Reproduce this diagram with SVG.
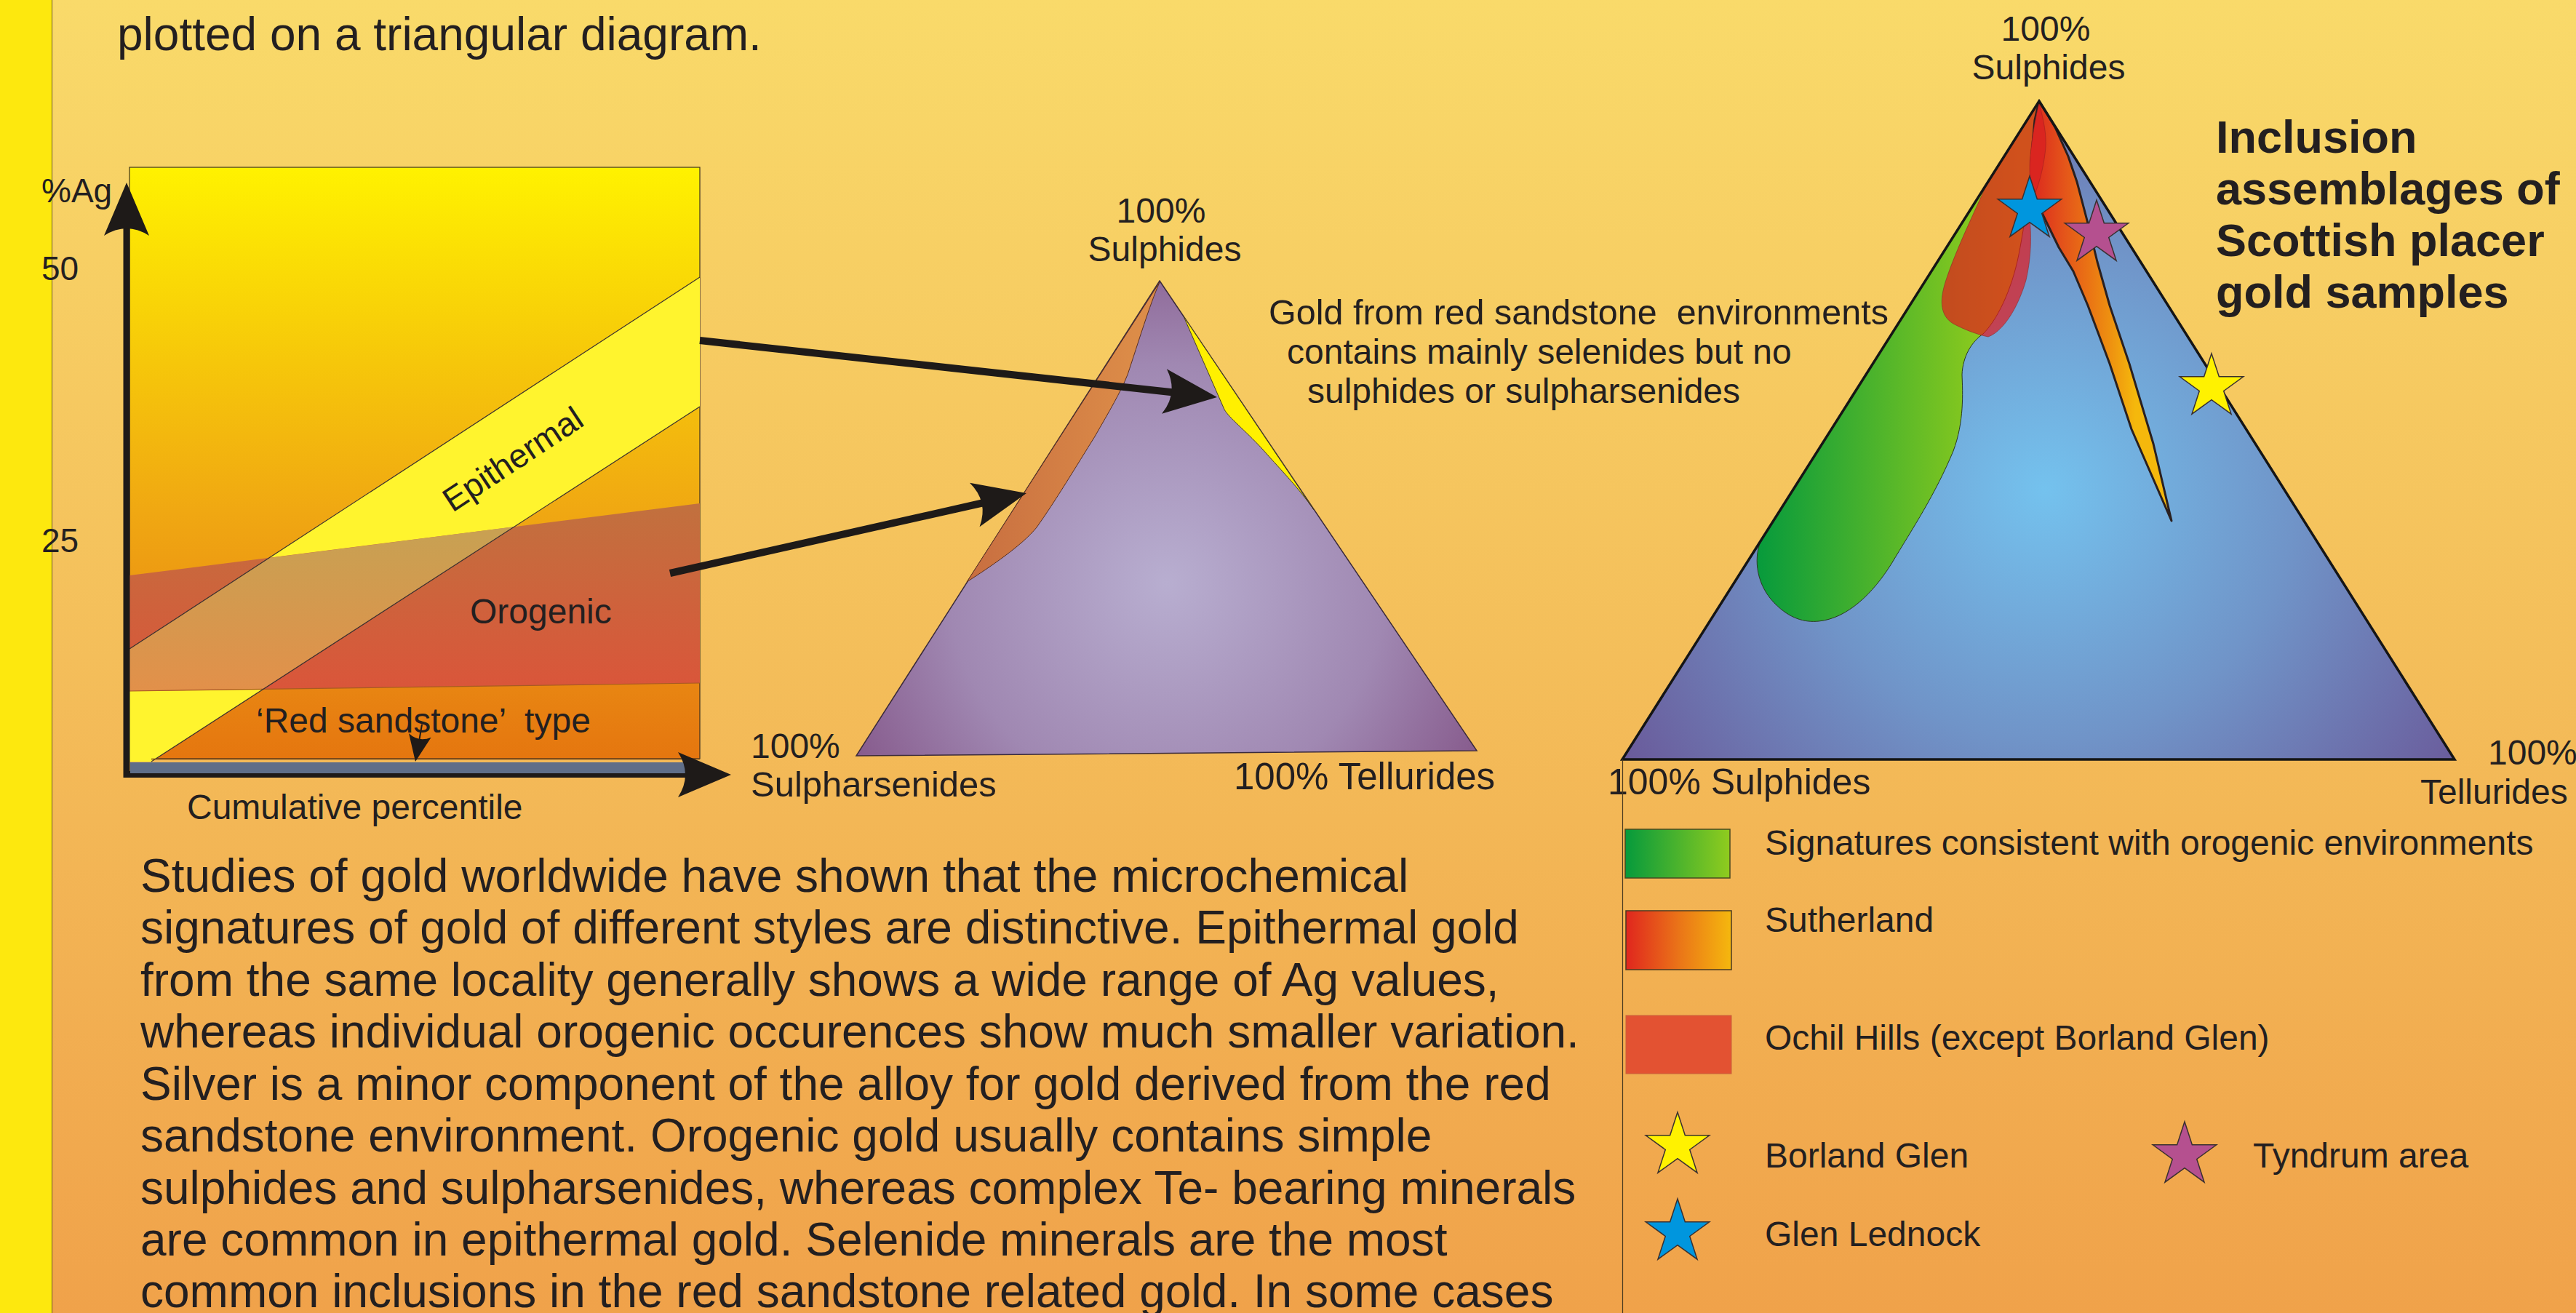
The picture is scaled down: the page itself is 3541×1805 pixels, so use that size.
<svg xmlns="http://www.w3.org/2000/svg" width="3541" height="1805" viewBox="0 0 3541 1805">
<defs>
  <linearGradient id="bg" x1="0" y1="0" x2="0" y2="1805" gradientUnits="userSpaceOnUse">
    <stop offset="0" stop-color="#F9DA6A"/>
    <stop offset="0.5" stop-color="#F4BE5A"/>
    <stop offset="1" stop-color="#F0A24A"/>
  </linearGradient>
  <linearGradient id="boxbg" x1="0" y1="230" x2="0" y2="1043" gradientUnits="userSpaceOnUse">
    <stop offset="0" stop-color="#FFF200"/>
    <stop offset="0.33" stop-color="#F6C70A"/>
    <stop offset="0.58" stop-color="#F0A812"/>
    <stop offset="0.88" stop-color="#E88512"/>
    <stop offset="1" stop-color="#E5760F"/>
  </linearGradient>
  <linearGradient id="orog" x1="0" y1="700" x2="0" y2="950" gradientUnits="userSpaceOnUse">
    <stop offset="0" stop-color="#C2703E"/>
    <stop offset="1" stop-color="#DA553A"/>
  </linearGradient>
  <linearGradient id="overlap" x1="0" y1="740" x2="0" y2="950" gradientUnits="userSpaceOnUse">
    <stop offset="0" stop-color="#C9A052"/>
    <stop offset="1" stop-color="#E2904A"/>
  </linearGradient>
  <radialGradient id="purple" cx="1604" cy="801" r="500" gradientUnits="userSpaceOnUse">
    <stop offset="0" stop-color="#B8AED0"/>
    <stop offset="0.6" stop-color="#A088B2"/>
    <stop offset="1" stop-color="#85588A"/>
  </radialGradient>
  <linearGradient id="orangeStrip" x1="1330" y1="0" x2="1560" y2="0" gradientUnits="userSpaceOnUse">
    <stop offset="0" stop-color="#C86E40"/>
    <stop offset="1" stop-color="#DC8C48"/>
  </linearGradient>
  <radialGradient id="blue" cx="2811" cy="673" r="690" gradientUnits="userSpaceOnUse">
    <stop offset="0" stop-color="#74C2EE"/>
    <stop offset="0.5" stop-color="#7094C8"/>
    <stop offset="1" stop-color="#6A5A9A"/>
  </radialGradient>
  <linearGradient id="green" x1="2414" y1="0" x2="2775" y2="0" gradientUnits="userSpaceOnUse">
    <stop offset="0" stop-color="#069A3C"/>
    <stop offset="1" stop-color="#A2D218"/>
  </linearGradient>
  <linearGradient id="suth" x1="2795" y1="0" x2="2935" y2="0" gradientUnits="userSpaceOnUse">
    <stop offset="0" stop-color="#DC2A1E"/>
    <stop offset="0.3" stop-color="#E4541A"/>
    <stop offset="0.55" stop-color="#EA7414"/>
    <stop offset="0.75" stop-color="#EE9010"/>
    <stop offset="1" stop-color="#F5B80C"/>
  </linearGradient>
  <linearGradient id="greenSw" x1="0" y1="0" x2="1" y2="0">
    <stop offset="0" stop-color="#069A3C"/>
    <stop offset="1" stop-color="#90CC1E"/>
  </linearGradient>
  <linearGradient id="suthSw" x1="0" y1="0" x2="1" y2="0">
    <stop offset="0" stop-color="#E0261E"/>
    <stop offset="0.5" stop-color="#EA7418"/>
    <stop offset="1" stop-color="#F5B80E"/>
  </linearGradient>
  <path id="ah" d="M0,0 L-73,-31 Q-53,0 -73,31 Z"/>
  <path id="star" d="M0,-46 L10.35,-14.24 L43.75,-14.21 L16.74,5.44 L27.04,37.21 L0,17.6 L-27.04,37.21 L-16.74,5.44 L-43.75,-14.21 L-10.35,-14.24 Z"/>
</defs>
<style>
  text { font-family: "Liberation Sans", Arial, Helvetica, sans-serif; fill: #231F20; white-space: pre; }
  .s46 { font-size: 46px; }
  .s48 { font-size: 48px; }
  .s64 { font-size: 64px; }
  .bold { font-weight: bold; font-size: 63px; }
  .mid { text-anchor: middle; }
  .edge { fill: none; stroke: #3A3030; stroke-width: 1.2; }
  .star { stroke: #3A3030; stroke-width: 1.5; }
  .conn { stroke: #1E1A18; stroke-width: 10; fill: none; }
  .head { fill: #1E1A18; }
</style>

<rect x="0" y="0" width="3541" height="1805" fill="url(#bg)"/>
<rect x="0" y="0" width="71" height="1805" fill="#FDE80E"/>
<line x1="71.5" y1="0" x2="71.5" y2="1805" stroke="#6B5A20" stroke-width="1"/>

<g id="intro-text">
  <text x="161" y="69" class="s64">plotted on a triangular diagram.</text>
</g>

<g id="ag-chart">
  <rect x="178" y="230" width="784" height="813" fill="url(#boxbg)" stroke="#3C3020" stroke-width="1.2"/>
  <polygon points="178,892 962,381 962,559 208,1047 178,1047" fill="#FFF42E"/>
  <polygon points="178,791 962,692 962,939 178,950" fill="url(#orog)"/>
  <polygon points="178,892 370,767 707,724 362,947 178,950" fill="url(#overlap)"/>
  <line x1="178" y1="950" x2="962" y2="939" stroke="#A85A22" stroke-width="1.2"/>
  <line x1="178" y1="892" x2="962" y2="381" class="edge"/>
  <line x1="208" y1="1047" x2="962" y2="559" class="edge"/>
  <line x1="208" y1="1043.5" x2="962" y2="1043.5" stroke="#7A4A18" stroke-width="1.5"/>
  <line x1="174" y1="1069" x2="174" y2="300" stroke="#1E1A18" stroke-width="9"/>
  <use href="#ah" class="head" transform="translate(174,251) rotate(-90)"/>
  <line x1="170" y1="1064.5" x2="955" y2="1064.5" stroke="#1E1A18" stroke-width="9"/>
  <rect x="179" y="1048" width="783" height="15" fill="#5F6E88"/>
  <use href="#ah" class="head" transform="translate(1005,1065)"/>
  <line x1="580" y1="996" x2="575" y2="1025" stroke="#1E1A18" stroke-width="2"/>
  <use href="#ah" class="head" transform="translate(571,1047) rotate(100) scale(0.5)"/>
  <text x="57" y="278" class="s46">%Ag</text>
  <text x="57" y="385" class="s46">50</text>
  <text x="57" y="759" class="s46">25</text>
  <text class="s46" transform="translate(622,705) rotate(-33.5)">Epithermal</text>
  <text x="646" y="857" class="s48">Orogenic</text>
  <text x="352" y="1007" class="s48">‘Red sandstone’  type</text>
  <text x="257" y="1126" class="s48">Cumulative percentile</text>
</g>

<g id="triangle-general">
  <polygon points="1594,386 2030,1032 1177,1039" fill="url(#purple)" stroke="#3A2A3A" stroke-width="1.5"/>
  <path d="M1594,388 L1329,800 C1360,780 1405,750 1425,725 C1450,690 1480,640 1505,600 C1525,565 1540,540 1550,515 C1565,470 1580,420 1594,388 Z" fill="url(#orangeStrip)" stroke="#5A3020" stroke-width="1"/>
  <path d="M1627,435 L1806,701 C1785,670 1755,640 1735,617 C1710,590 1690,575 1683,563 Z" fill="#FFF000" stroke="#4A4020" stroke-width="1"/>
  <text x="1596" y="306" class="s48 mid">100%</text>
  <text x="1601" y="359" class="s48 mid">Sulphides</text>
  <text x="1032" y="1042" class="s48">100%</text>
  <text x="1032" y="1095" class="s48" style="font-size:49px">Sulpharsenides</text>
  <text x="1696" y="1085" class="s48" style="font-size:51px">100% Tellurides</text>
  <text x="1744" y="446" class="s48" style="font-size:48.5px">Gold from red sandstone  environments</text>
  <text x="1769" y="500" class="s48">contains mainly selenides but no</text>
  <text x="1797" y="554" class="s48">sulphides or sulpharsenides</text>
</g>

<g id="triangle-scottish">
  <polygon points="2803,139 3374,1044 2230,1044" fill="url(#blue)"/>
  <path d="M2803,139 L2420,744 C2410,770 2415,805 2440,830 C2460,850 2480,856 2500,854 C2540,850 2575,815 2600,775 C2630,725 2660,680 2685,620 C2700,580 2698,540 2697,515 C2698,490 2710,470 2726,459 C2745,440 2765,400 2775,350 C2785,300 2795,220 2803,139 Z" fill="url(#green)" stroke="#2A3A20" stroke-width="1"/>
  <path d="M2803,139 L2731,253 C2715,290 2690,340 2675,385 C2665,415 2668,435 2685,445 C2700,453 2718,460 2733,463 C2755,455 2775,420 2785,385 C2793,350 2792,320 2790,300 L2793,250 L2797,170 Z" fill="#E41A1E" fill-opacity="0.7" stroke="#8A2A2A" stroke-width="1" stroke-opacity="0.6"/>
  <path d="M2803,139 L2797,165 L2792,220 L2793,262 L2808,295 L2830,340 L2850,373 L2870,420 L2900,500 L2930,590 L2985,716 L2960,610 L2927,500 L2900,420 L2883,360 L2870,307 L2855,250 L2843,215 L2825,175 L2813,155 Z" fill="url(#suth)" stroke="#2A2020" stroke-width="3" stroke-linejoin="round"/>
  <path d="M2803,142 C2796,170 2790,210 2790,232 C2790,248 2793,258 2798,264 C2804,250 2810,225 2812,203 C2813,185 2810,168 2803,142 Z" fill="#DA2520" stroke="#A02020" stroke-width="1" stroke-opacity="0.6"/>
  <polygon points="2803,139 3374,1044 2230,1044" fill="none" stroke="#151515" stroke-width="3.5" stroke-linejoin="miter"/>
  <use href="#star" class="star" fill="#0096DE" transform="translate(2790,288)"/>
  <use href="#star" class="star" fill="#B5508F" transform="translate(2882,321)"/>
  <use href="#star" class="star" fill="#FFF200" transform="translate(3040,532)"/>
  <text x="2812" y="56" class="s48 mid">100%</text>
  <text x="2816" y="109" class="s48 mid">Sulphides</text>
  <text x="2210" y="1092" class="s48" style="font-size:50px">100% Sulphides</text>
  <text x="3420" y="1051" class="s48">100%</text>
  <text x="3327" y="1105" class="s48">Tellurides</text>
  <text x="3046" y="210" class="bold">Inclusion</text>
  <text x="3046" y="281" class="bold">assemblages of</text>
  <text x="3046" y="352" class="bold">Scottish placer</text>
  <text x="3046" y="423" class="bold">gold samples</text>
</g>

<g id="legend">
  <line x1="2230.5" y1="1044" x2="2230.5" y2="1805" stroke="#4A3A20" stroke-width="1.2"/>
  <g id="legend-orogenic">
    <rect x="2234" y="1140" width="144" height="67" fill="url(#greenSw)" stroke="#4A4A20" stroke-width="1.5"/>
    <text x="2426" y="1175" class="s48">Signatures consistent with orogenic environments</text>
  </g>
  <g id="legend-sutherland">
    <rect x="2235" y="1252" width="145" height="81" fill="url(#suthSw)" stroke="#4A3A20" stroke-width="1.5"/>
    <text x="2426" y="1281" class="s48">Sutherland</text>
  </g>
  <g id="legend-ochil">
    <rect x="2235" y="1396" width="145" height="80" fill="#E35232" stroke="#C8603A" stroke-width="1"/>
    <text x="2426" y="1443" class="s48">Ochil Hills (except Borland Glen)</text>
  </g>
  <g id="legend-borland">
    <use href="#star" class="star" fill="#FFF200" transform="translate(2306,1575)"/>
    <text x="2426" y="1605" class="s48">Borland Glen</text>
  </g>
  <g id="legend-tyndrum">
    <use href="#star" class="star" fill="#B5508F" transform="translate(3003,1588)"/>
    <text x="3097" y="1605" class="s48">Tyndrum area</text>
  </g>
  <g id="legend-lednock">
    <use href="#star" class="star" fill="#0096DE" transform="translate(2306,1694)"/>
    <text x="2426" y="1713" class="s48">Glen Lednock</text>
  </g>
</g>

<g id="body-text">
  <text x="193" y="1226" class="s64">Studies of gold worldwide have shown that the microchemical</text>
  <text x="193" y="1297" class="s64">signatures of gold of different styles are distinctive. Epithermal gold</text>
  <text x="193" y="1369" class="s64">from the same locality generally shows a wide range of Ag values,</text>
  <text x="193" y="1440" class="s64">whereas individual orogenic occurences show much smaller variation.</text>
  <text x="193" y="1512" class="s64">Silver is a minor component of the alloy for gold derived from the red</text>
  <text x="193" y="1583" class="s64">sandstone environment. Orogenic gold usually contains simple</text>
  <text x="193" y="1655" class="s64">sulphides and sulpharsenides, whereas complex Te- bearing minerals</text>
  <text x="193" y="1726" class="s64">are common in epithermal gold. Selenide minerals are the most</text>
  <text x="193" y="1797" class="s64">common inclusions in the red sandstone related gold. In some cases</text>
</g>

<g id="connectors">
  <line x1="962" y1="468" x2="1618" y2="540" class="conn"/>
  <use href="#ah" class="head" transform="translate(1673,546) rotate(6.26)"/>
  <line x1="921" y1="788" x2="1357" y2="690" class="conn"/>
  <use href="#ah" class="head" transform="translate(1411,678) rotate(-12.65)"/>
</g>
</svg>
